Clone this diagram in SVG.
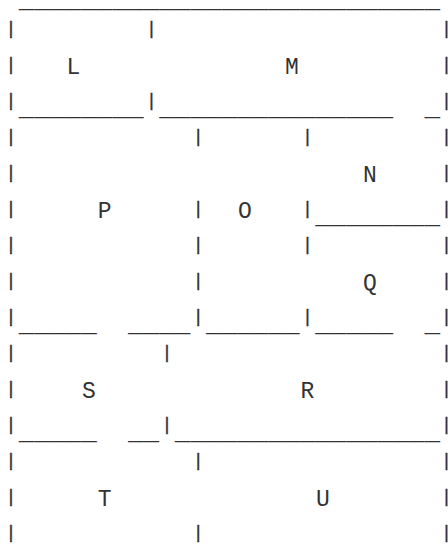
<svg xmlns="http://www.w3.org/2000/svg" width="448" height="546" viewBox="0 0 448 546">
<style>
text{font-family:"Liberation Mono","Courier New",monospace;fill:#333}
.b{font-size:19px;stroke:#333;stroke-width:0.3}
.u{font-size:26px}
.n{font-size:23px}
</style>
<rect width="448" height="546" fill="#fff"/>
<g id="frame">
<text class="u" x="18.8" y="7">___________________________</text>
<text class="b" x="5.3" y="34">|</text><text class="b" x="145.7" y="34">|</text><text class="b" x="440.8" y="34">|</text>
<text class="b" x="5.3" y="70">|</text><text class="b" x="440.8" y="70">|</text>
<text class="b" x="5.3" y="106">|</text><text class="b" x="145.7" y="106">|</text><text class="b" x="440.8" y="106">|</text>
<text class="u" x="18.8" y="115">________</text><text class="u" x="159.2" y="115">_______________</text><text class="u" x="424.4" y="115">_</text>
<text class="b" x="5.3" y="142">|</text><text class="b" x="192.5" y="142">|</text><text class="b" x="301.7" y="142">|</text><text class="b" x="440.8" y="142">|</text>
<text class="b" x="5.3" y="178">|</text><text class="b" x="440.8" y="178">|</text>
<text class="b" x="5.3" y="214">|</text><text class="b" x="192.5" y="214">|</text><text class="b" x="301.7" y="214">|</text><text class="b" x="440.8" y="214">|</text>
<text class="u" x="315.2" y="223">________</text>
<text class="b" x="5.3" y="250">|</text><text class="b" x="192.5" y="250">|</text><text class="b" x="301.7" y="250">|</text><text class="b" x="440.8" y="250">|</text>
<text class="b" x="5.3" y="286">|</text><text class="b" x="192.5" y="286">|</text><text class="b" x="440.8" y="286">|</text>
<text class="b" x="5.3" y="322">|</text><text class="b" x="192.5" y="322">|</text><text class="b" x="301.7" y="322">|</text><text class="b" x="440.8" y="322">|</text>
<text class="u" x="18.8" y="331">_____</text><text class="u" x="128" y="331">____</text><text class="u" x="206" y="331">______</text><text class="u" x="315.2" y="331">_____</text><text class="u" x="424.4" y="331">_</text>
<text class="b" x="5.3" y="358">|</text><text class="b" x="161.3" y="358">|</text><text class="b" x="440.8" y="358">|</text>
<text class="b" x="5.3" y="394">|</text><text class="b" x="440.8" y="394">|</text>
<text class="b" x="5.3" y="430">|</text><text class="b" x="161.3" y="430">|</text><text class="b" x="440.8" y="430">|</text>
<text class="u" x="18.8" y="439">_____</text><text class="u" x="128" y="439">__</text><text class="u" x="174.8" y="439">_________________</text>
<text class="b" x="5.3" y="466">|</text><text class="b" x="192.5" y="466">|</text><text class="b" x="440.8" y="466">|</text>
<text class="b" x="5.3" y="502">|</text><text class="b" x="440.8" y="502">|</text>
<text class="b" x="5.3" y="538">|</text><text class="b" x="192.5" y="538">|</text><text class="b" x="440.8" y="538">|</text>
</g>
<g id="L"><text class="n" x="66.5" y="74">L</text></g>
<g id="M"><text class="n" x="284.9" y="74">M</text></g>
<g id="N"><text class="n" x="362.9" y="182">N</text></g>
<g id="P"><text class="n" x="97.7" y="218">P</text></g>
<g id="O"><text class="n" x="238.1" y="218">O</text></g>
<g id="Q"><text class="n" x="362.9" y="290">Q</text></g>
<g id="S"><text class="n" x="82.1" y="398">S</text></g>
<g id="R"><text class="n" x="300.5" y="398">R</text></g>
<g id="T"><text class="n" x="97.7" y="506">T</text></g>
<g id="U"><text class="n" x="316.1" y="506">U</text></g>
</svg>
